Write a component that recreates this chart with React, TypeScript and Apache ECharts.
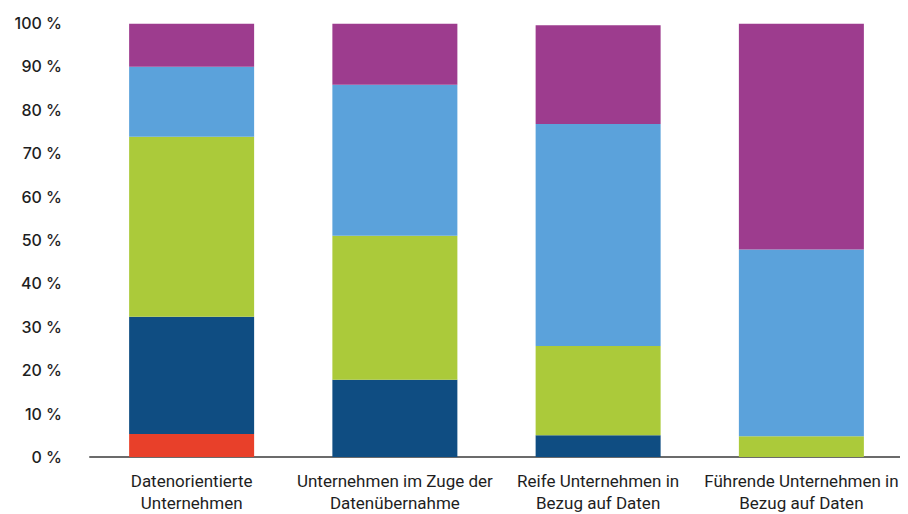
import React, { useEffect, useRef } from "react";
import * as echarts from "echarts";

const categories = [
  "Datenorientierte\nUnternehmen",
  "Unternehmen im Zuge der\nDatenübernahme",
  "Reife Unternehmen in\nBezug auf Daten",
  "Führende Unternehmen in\nBezug auf Daten",
];

const seriesNames = ["Stufe 1", "Stufe 2", "Stufe 3", "Stufe 4", "Stufe 5"];
const stufe1 = [5.3, 0, 0, 0];
const stufe2 = [27, 17.8, 5, 0];
const stufe3 = [41.5, 33.2, 20.6, 4.8];
const stufe4 = [16.1, 34.8, 51.1, 43];
const stufe5 = [9.9, 14, 22.8, 52];
const seriesValues = [stufe1, stufe2, stufe3, stufe4, stufe5];
const colors = ["#E8402A", "#0F4D82", "#ABCA3A", "#5BA2DB", "#9D3C8E"];

const yTicks = { min: 0, max: 100, interval: 10 };

export default function App() {
  const ref = useRef<HTMLDivElement>(null);
  useEffect(() => {
    if (!ref.current) return;
    const chart = echarts.init(ref.current, undefined, { renderer: "svg" });
    chart.setOption({
      animation: false,
      backgroundColor: "#ffffff",
      grid: { left: 82, right: 5, top: 15, bottom: 54 },
      xAxis: {
        type: "category",
        data: categories,
        axisLine: { show: true, lineStyle: { color: "#6b6b6b", width: 2 } },
        axisTick: { show: false },
        axisLabel: {
          interval: 0,
          color: "#1e1e1e",
          fontSize: 17,
          lineHeight: 22,
          margin: 13,
          fontFamily: "Roboto, 'Liberation Sans', sans-serif",
        },
      },
      yAxis: {
        type: "value",
        min: yTicks.min,
        max: yTicks.max,
        interval: yTicks.interval,
        axisLine: { show: false },
        axisTick: { show: false },
        splitLine: { show: false },
        axisLabel: {
          formatter: (v: number) => `${v} %`,
          color: "#1e1e1e",
          fontSize: 16,
          fontWeight: 500,
          fontFamily: "Inter, Lato, sans-serif",
          margin: 28,
          padding: [0, 0, 6, 0],
        },
      },
      series: seriesValues.map((vals, i) => ({
        name: seriesNames[i],
        type: "bar",
        stack: "total",
        barWidth: 125,
        data: vals,
        itemStyle: { color: colors[i] },
      })),
    });
    return () => chart.dispose();
  }, []);
  return <div ref={ref} style={{ width: 900, height: 506 }} />;
}
